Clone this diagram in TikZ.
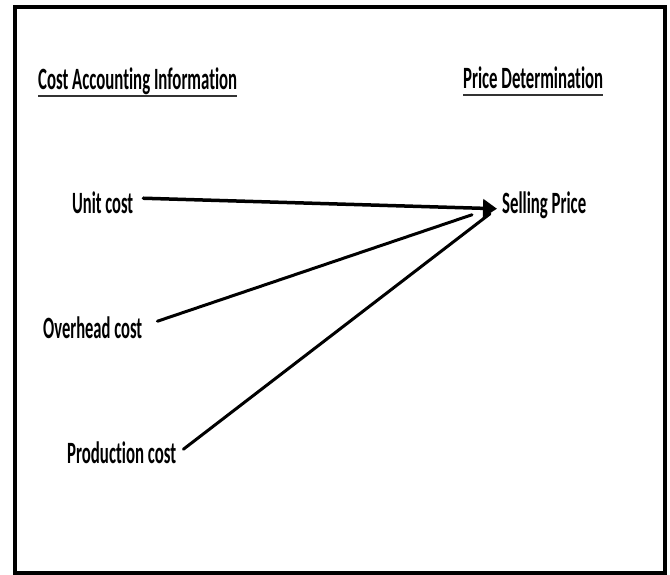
\documentclass[tikz,border=0pt]{standalone}
\usepackage{fontspec}
\setmainfont{Carlito}[Ligatures={NoCommon,NoContextual}]
\usepackage{graphicx}
\usetikzlibrary{arrows.meta}
\newcommand\fitw[2]{\resizebox{#1pt}{\height}{#2}}
\newcommand\nolig{\kern0pt}
\begin{document}
\begin{tikzpicture}[x=1pt,y=-1pt,
  lbl/.style={anchor=base west,inner sep=0pt,font=\fontsize{31}{34}\selectfont\bfseries},
  conn/.style={line width=3pt,line cap=round},
  ul/.style={line width=2pt,black!80}]
\useasboundingbox (0,0) rectangle (670,575);
\draw[line width=4pt] (14.5,7) rectangle (665,573);
% headings
\node[lbl] (cai) at (38,90) {\fitw{199}{Cost Accounting Informat\nolig ion}};
\node[lbl] (pd) at (463,89) {\fitw{140}{Price Determinat\nolig ion}};
\draw[ul] ([yshift=-6pt]cai.base west) -- ([yshift=-6pt]cai.base east);
\draw[ul] ([yshift=-6pt]pd.base west) -- ([yshift=-6pt]pd.base east);
% items
\node[lbl] (unit) at (72,214) {\fitw{61}{Unit cost}};
\node[lbl] (over) at (43,338) {\fitw{99}{Overhead cost}};
\node[lbl] (prod) at (67,463) {\fitw{109}{Product\nolig ion cost}};
\node[lbl] (sell) at (502,214) {\fitw{84}{Selling Price}};
\coordinate (tip) at ([xshift=-5pt,yshift=-3pt]sell.west);
% connectors
\draw[conn,line width=3.5pt,-{Triangle[length=14pt,width=18pt]}] ([xshift=10pt,yshift=5pt]unit.east) -- (tip);
\draw[conn] ([xshift=15pt,yshift=6pt]over.east) -- ([xshift=-30pt,yshift=-9pt]sell.west);
\draw[conn] ([xshift=7pt,yshift=3pt]prod.east) -- ([xshift=-12pt,yshift=-8pt]sell.west);
\end{tikzpicture}
\end{document}
